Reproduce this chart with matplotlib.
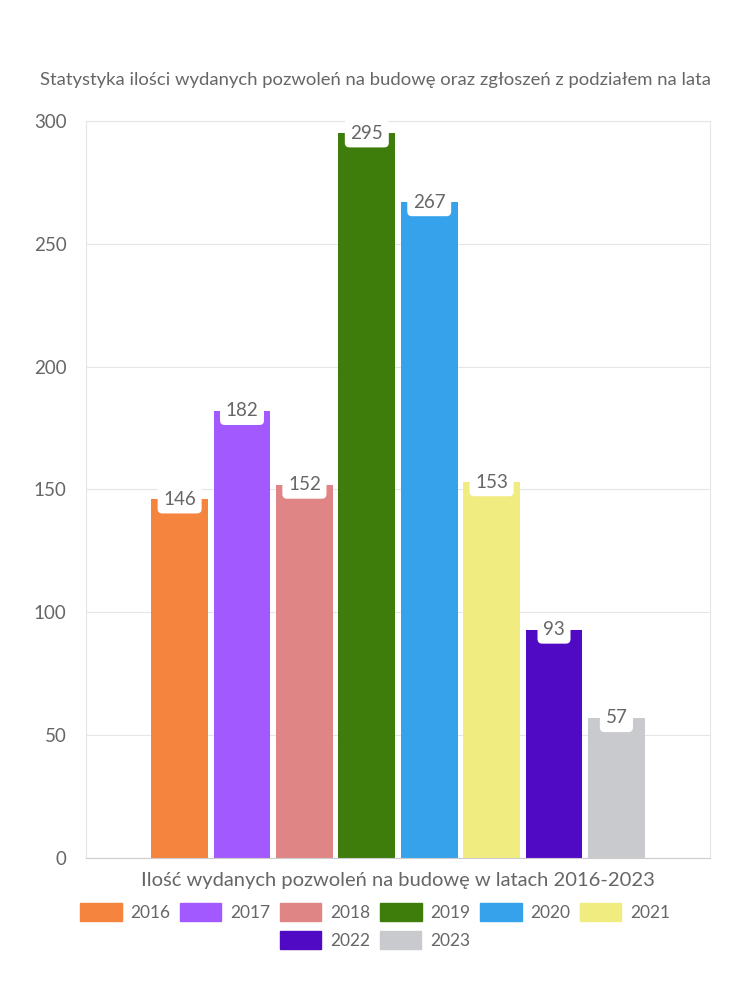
import matplotlib
matplotlib.use('Agg')
import matplotlib.pyplot as plt
from matplotlib.patches import Patch

years = ['2016', '2017', '2018', '2019', '2020', '2021', '2022', '2023']
values = [146, 182, 152, 295, 267, 153, 93, 57]
colors = ['#f5843f', '#a259ff', '#e08585', '#3e7d0b', '#36a2eb', '#f0ec7f', '#510ac4', '#c9cacd']
yticks = [0, 50, 100, 150, 200, 250, 300]

plt.rcParams['font.family'] = ['Lato', 'DejaVu Sans']
txt = '#666666'

fig = plt.figure(figsize=(7.5, 10), dpi=100)
ax = fig.add_axes([0.1147, 0.142, 0.832, 0.737])

x = list(range(len(years)))
ax.bar(x, values, width=0.91, color=colors, zorder=2)

for xi, v in zip(x, values):
    ax.text(xi, v, str(v), ha='center', va='center', fontsize=13.5, color=txt, zorder=3,
            bbox=dict(boxstyle='round,pad=0.3,rounding_size=0.25', fc='white', ec='none'))

ax.set_xlim(-1.5, 8.5)
ax.set_ylim(0, 300)
ax.set_yticks(yticks)
ax.set_xticks([])
ax.tick_params(axis='y', length=0, pad=14, labelsize=13.5, labelcolor=txt)
ax.grid(axis='y', color='#e6e6e6', linewidth=0.8, zorder=0)
for s in ['top', 'right', 'left']:
    ax.spines[s].set_color('#e6e6e6')
    ax.spines[s].set_linewidth(0.8)
ax.spines['bottom'].set_color('#cccccc')

ax.set_xlabel('Ilość wydanych pozwoleń na budowę w latach 2016-2023', fontsize=14.5, color=txt, labelpad=10)
fig.text(0.5, 0.92, 'Statystyka ilości wydanych pozwoleń na budowę oraz zgłoszeń z podziałem na lata',
         ha='center', va='center', fontsize=13.3, color=txt)

handles = [Patch(color=c, label=y) for c, y in zip(colors, years)]
kw = dict(loc='center', frameon=False, fontsize=12.5, handlelength=2.4, handleheight=1.2,
          columnspacing=0.55, handletextpad=0.5, labelcolor=txt)
fig.legend(handles=handles[:6], bbox_to_anchor=(0.5, 0.088), ncol=6, **kw)
fig.legend(handles=handles[6:], bbox_to_anchor=(0.5, 0.06), ncol=2, **kw)

fig.savefig('out.png', dpi=100)
